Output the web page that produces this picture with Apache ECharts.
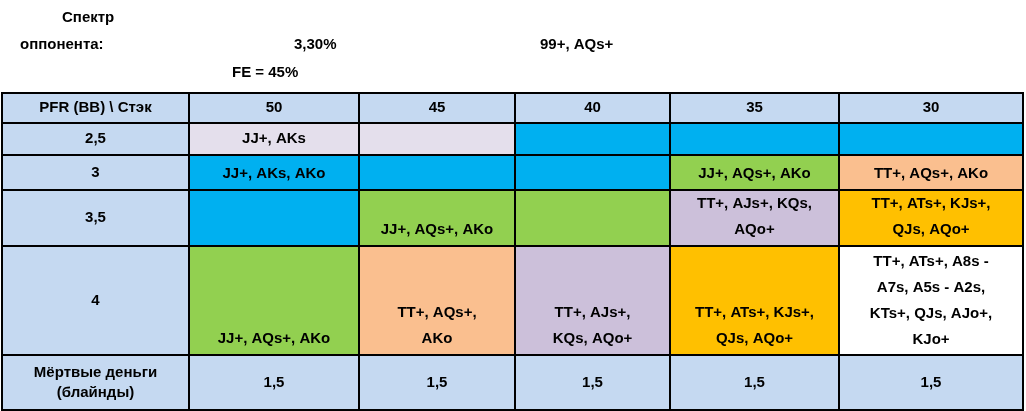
<!DOCTYPE html>
<html><head><meta charset="utf-8">
<script src="https://cdn.jsdelivr.net/npm/echarts@6/dist/echarts.min.js"></script>
<style>html,body{margin:0;padding:0;background:#fff}#c{width:1026px;height:411px}</style>
</head><body><div id="c"></div>
<script>
// Table structure
var colEdges = [2, 189, 359, 515, 670, 839, 1023];
var rowEdges = [93, 123, 155, 190, 246, 355, 410];
var stacks = ['50', '45', '40', '35', '30'];
var pfrLabels = ['2,5', '3', '3,5', '4'];
var deadMoneyLabel = 'Мёртвые деньги\n(блайнды)';
var deadMoney = ['1,5', '1,5', '1,5', '1,5', '1,5'];
var headerCorner = 'PFR (BB) \\ Стэк';
var palette = {H: '#C5D9F1', L: '#E4DFEC', B: '#00B0F0', G: '#92D050', P: '#FABF8F', V: '#CCC0DA', O: '#FFC000', W: '#FFFFFF'};
var rangeColors = [
  ['L', 'L', 'B', 'B', 'B'],
  ['B', 'B', 'B', 'G', 'P'],
  ['B', 'G', 'G', 'V', 'O'],
  ['G', 'P', 'V', 'O', 'W']
];
var rangeTexts = [
  ['JJ+, AKs', '', '', '', ''],
  ['JJ+, AKs, AKo', '', '', 'JJ+, AQs+, AKo', 'TT+, AQs+, AKo'],
  ['', 'JJ+, AQs+, AKo', '', 'TT+, AJs+, KQs,\nAQo+', 'TT+, ATs+, KJs+,\nQJs, AQo+'],
  ['JJ+, AQs+, AKo', 'TT+, AQs+,\nAKo', 'TT+, AJs+,\nKQs, AQo+', 'TT+, ATs+, KJs+,\nQJs, AQo+', 'TT+, ATs+, A8s -\nA7s, A5s - A2s,\nKTs+, QJs, AJo+,\nKJo+']
];
var infoTexts = [
  {t: 'Спектр', x: 62, y: 20},
  {t: 'оппонента:', x: 20, y: 47},
  {t: '3,30%', x: 294, y: 47},
  {t: '99+, AQs+', x: 540, y: 47},
  {t: 'FE = 45%', x: 232, y: 75}
];

// build cells: [row, col, colorKey, text, valign]
var cells = [];
cells.push([0, 0, 'H', headerCorner, 'middle']);
stacks.forEach(function (s, j) { cells.push([0, j + 1, 'H', s, 'middle']); });
pfrLabels.forEach(function (lab, i) {
  cells.push([i + 1, 0, 'H', lab, 'middle']);
  for (var j = 0; j < 5; j++) {
    var key = rangeColors[i][j];
    cells.push([i + 1, j + 1, key, rangeTexts[i][j], key === 'W' ? 'top' : 'bottom']);
  }
});
cells.push([5, 0, 'H', deadMoneyLabel, 'middle']);
deadMoney.forEach(function (v, j) { cells.push([5, j + 1, 'H', v, 'middle']); });

var data = cells.map(function (c) {
  return [colEdges[c[1]], colEdges[c[1] + 1], rowEdges[c[0]], rowEdges[c[0] + 1], c[2], c[3], c[4]];
});

var font = 'bold 15px "Liberation Sans", Arial, sans-serif';
var chart = echarts.init(document.getElementById('c'));
chart.setOption({
  animation: false,
  grid: {left: 0, right: 0, top: 0, bottom: 0},
  xAxis: {type: 'value', min: 0, max: 1026, show: false},
  yAxis: {type: 'value', min: 0, max: 411, inverse: true, show: false},
  graphic: infoTexts.map(function (o) {
    return {type: 'text', left: o.x, top: o.y - 10, style: {text: o.t, font: font, fill: '#000'}};
  }),
  series: [{
    type: 'custom',
    data: data,
    renderItem: function (params, api) {
      var p0 = api.coord([api.value(0), api.value(2)]);
      var p1 = api.coord([api.value(1), api.value(3)]);
      var d = data[params.dataIndex];
      var va = d[6];
      var ty = va === 'middle' ? (p0[1] + p1[1]) / 2 : va === 'top' ? p0[1] + 3 : p1[1] - 3;
      return {
        type: 'group',
        children: [
          {type: 'rect', shape: {x: p0[0], y: p0[1], width: p1[0] - p0[0], height: p1[1] - p0[1]},
           style: {fill: palette[d[4]], stroke: '#000', lineWidth: 2}},
          {type: 'text', style: {text: d[5], x: (p0[0] + p1[0]) / 2, y: ty, align: 'center',
           verticalAlign: va, font: font, lineHeight: va === 'middle' ? 20 : 26, fill: '#000'}}
        ]
      };
    }
  }]
});
</script></body></html>
